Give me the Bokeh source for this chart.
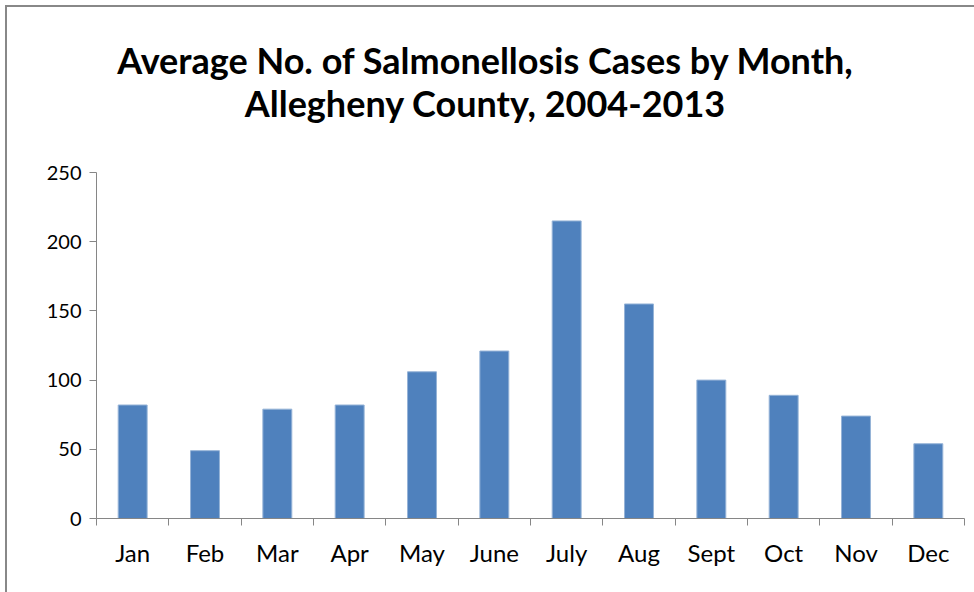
from bokeh.plotting import figure
from bokeh.models import Div, FixedTicker, Range1d
from bokeh.layouts import column
from bokeh.embed import file_html
from bokeh.resources import INLINE

title_lines = ["Average No. of Salmonellosis Cases by Month,", "Allegheny County, 2004-2013"]
months = ["Jan", "Feb", "Mar", "Apr", "May", "June", "July", "Aug", "Sept", "Oct", "Nov", "Dec"]
cases = [82, 49, 79, 82, 106, 121, 215, 155, 100, 89, 74, 54]
y_ticks = [0, 50, 100, 150, 200, 250]

FONT = "Lato"

n = len(months)
centers = [i + 0.5 for i in range(n)]
bounds = list(range(n + 1))

frame_border = ("<div style=\"position:fixed;left:5px;top:5px;width:3000px;height:3000px;z-index:50;"
                "border-left:2px solid #888888;border-top:2px solid #888888;pointer-events:none;\"></div>")

title = Div(
    text=("%s<div style=\"font-family:'%s';font-weight:bold;font-size:36px;line-height:43px;"
          "width:960px;text-align:center;color:#000;margin-top:34px;\">%s<br>%s</div>")
    % (frame_border, FONT, title_lines[0], title_lines[1]),
    width=966, height=150,
)

p = figure(
    width=966, height=426,
    x_range=Range1d(0, n), y_range=Range1d(0, 250),
    output_backend="svg", toolbar_location=None,
    min_border_left=96, min_border_right=2, min_border_top=12, min_border_bottom=68,
)
p.border_fill_color = None
p.outline_line_color = None
p.xgrid.visible = False
p.ygrid.visible = False

p.vbar(x=centers, top=cases, width=0.4, fill_color="#4F81BD", line_color="#95B3D7", line_width=1)

xa = p.xaxis[0]
xa.ticker = FixedTicker(ticks=centers, minor_ticks=bounds)
xa.major_label_overrides = {c: m for c, m in zip(centers, months)}
xa.major_tick_out = 0
xa.major_tick_in = 0
xa.minor_tick_out = 7
xa.minor_tick_in = 0
xa.minor_tick_line_color = "#868686"
xa.axis_line_color = "#868686"
xa.major_label_standoff = 12
xa.major_label_text_font = FONT
xa.major_label_text_font_size = "24px"
xa.major_label_text_color = "#000000"

ya = p.yaxis[0]
ya.ticker = FixedTicker(ticks=y_ticks)
ya.major_tick_out = 7
ya.major_tick_in = 0
ya.minor_tick_out = 0
ya.minor_tick_in = 0
ya.major_tick_line_color = "#868686"
ya.axis_line_color = "#868686"
ya.major_label_standoff = 8
ya.major_label_text_font = FONT
ya.major_label_text_font_size = "20px"
ya.major_label_text_color = "#000000"

layout = column(title, p)

open("out.html", "w").write(file_html(layout, INLINE))
